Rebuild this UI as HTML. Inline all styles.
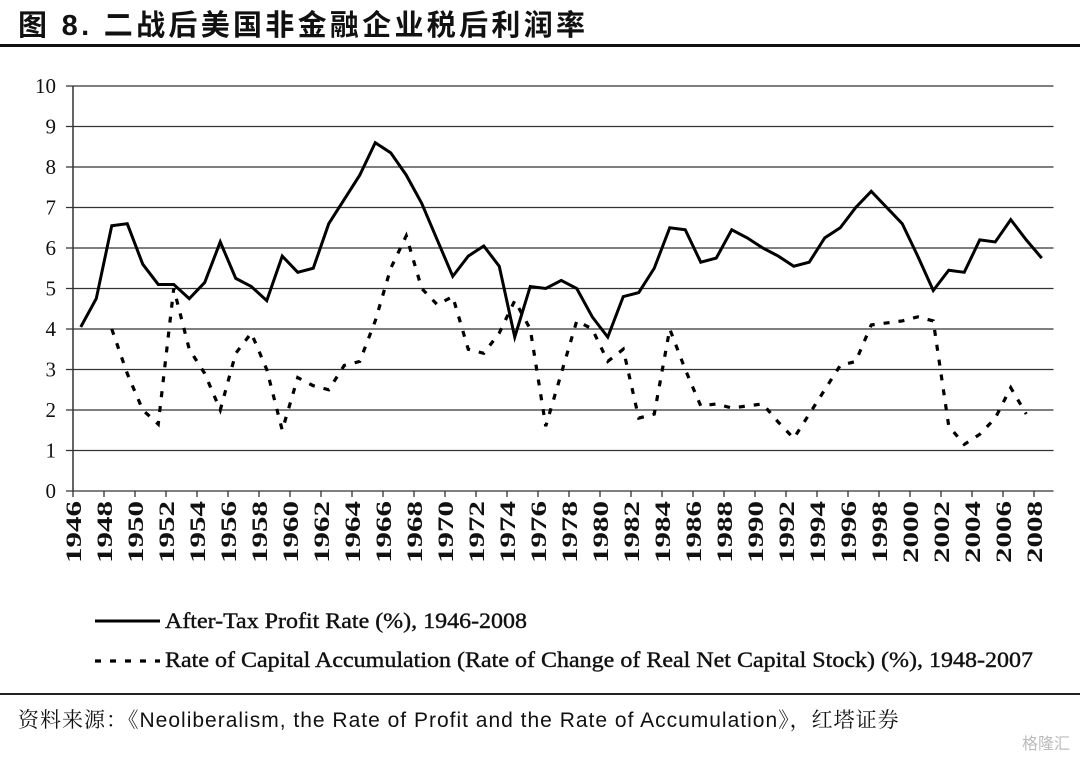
<!DOCTYPE html>
<html><head><meta charset="utf-8"><style>
body{margin:0;width:1080px;height:759px;background:#fff;overflow:hidden;position:relative;font-family:"Liberation Sans","Noto Sans CJK SC",sans-serif}
.title{position:absolute;left:18px;top:2px;font-size:29px;font-weight:bold;letter-spacing:3.3px;color:#111;white-space:nowrap}
.src{position:absolute;left:18px;top:704px;font-size:21px;color:#111;font-family:"Liberation Sans","Noto Serif CJK SC",serif;white-space:nowrap;letter-spacing:1px}
.wm{position:absolute;right:10px;top:730px;font-size:16px;color:#bbb}
</style></head><body>
<div class="title">图 8. 二战后美国非金融企业税后利润率</div>
<div style="position:absolute;left:0;top:44px;width:1080px;height:3px;background:#111"></div>
<svg id="chart" width="1080" height="690" style="position:absolute;left:0;top:0"></svg>
<div style="position:absolute;left:0;top:693px;width:1080px;height:2px;background:#222"></div>
<div class="src">资料来源：《Neoliberalism, the Rate of Profit and the Rate of Accumulation》，红塔证券</div>
<div class="wm">格隆汇</div>
<script>
const profitStart = 1946;
const profitRate = [4.05,4.75,6.55,6.6,5.6,5.1,5.1,4.75,5.15,6.15,5.25,5.05,4.7,5.8,5.4,5.5,6.6,7.2,7.8,8.6,8.35,7.8,7.1,6.2,5.3,5.8,6.05,5.55,3.8,5.05,5.0,5.2,5.0,4.3,3.8,4.8,4.9,5.5,6.5,6.45,5.65,5.75,6.45,6.25,6.0,5.8,5.55,5.65,6.25,6.5,7.0,7.4,7.0,6.6,5.8,4.95,5.45,5.4,6.2,6.15,6.7,6.2,5.75];
const accumStart = 1948;
const accumRate = [4.0,2.9,2.0,1.65,5.0,3.5,2.9,2.0,3.4,3.9,3.0,1.5,2.8,2.6,2.5,3.1,3.2,4.2,5.5,6.3,5.0,4.6,4.8,3.5,3.4,3.9,4.7,4.0,1.6,2.9,4.2,4.0,3.2,3.5,1.8,1.9,4.0,3.0,2.1,2.15,2.05,2.1,2.15,1.7,1.3,1.9,2.5,3.1,3.2,4.1,4.15,4.2,4.3,4.2,1.6,1.15,1.4,1.8,2.55,1.9];
const yTicks = [0,1,2,3,4,5,6,7,8,9,10];
const firstYear = 1946, lastYear = 2008;
const legendLabels = ["After-Tax Profit Rate (%), 1946-2008","Rate of Capital Accumulation (Rate of Change of Real Net Capital Stock) (%), 1948-2007"];

const svg = document.getElementById('chart');
const NS = 'http://www.w3.org/2000/svg';
const X0 = 73, STEP = 15.5, Y0 = 491, YU = 40.5;
const xs = yr => X0 + STEP*(yr - firstYear + 0.5);
const ys = v => Y0 - v*YU;
const xEnd = X0 + STEP*(lastYear-firstYear+1);
function mk(tag, attrs){const e=document.createElementNS(NS,tag);for(const k in attrs)e.setAttribute(k,attrs[k]);svg.appendChild(e);return e;}

yTicks.forEach(t=>{
  const g = mk('line',{x1:66,x2:xEnd+4,y1:ys(t),y2:ys(t),stroke:'#333','stroke-width':1.3});
  
  
  const tx = mk('text',{x:56,y:ys(t)+7,'text-anchor':'end','font-size':21,'font-family':'Liberation Serif, serif',fill:'#111'});
  tx.textContent = t;
  
  
});
const ax = mk('line',{x1:X0,x2:X0,y1:ys(10),y2:Y0,stroke:'#333','stroke-width':1.5});


for(let yr=firstYear; yr<=lastYear+1; yr+=2){
  const x = X0 + STEP*(yr-firstYear);
  const tk = mk('line',{x1:x,x2:x,y1:Y0,y2:Y0+6,stroke:'#333','stroke-width':1.3});
  
  
  if(yr<=lastYear){
    const tx = mk('text',{x:0,y:0,'text-anchor':'end','font-size':22,'font-weight':'bold','font-family':'Liberation Serif, serif',fill:'#111',textLength:62,lengthAdjust:'spacingAndGlyphs',transform:`translate(${x+8},${Y0+10}) rotate(-90)`});
    tx.textContent = yr;
    
    
  }
}
const p1 = mk('polyline',{points:profitRate.map((v,i)=>xs(profitStart+i)+','+ys(v)).join(' '),fill:'none',stroke:'#000','stroke-width':3,'stroke-linejoin':'miter'});


const p2 = mk('polyline',{points:accumRate.map((v,i)=>xs(accumStart+i)+','+ys(v)).join(' '),fill:'none',stroke:'#000','stroke-width':3.2,'stroke-dasharray':'6 9'});



const l1 = mk('line',{x1:95,x2:160,y1:621,y2:621,stroke:'#000','stroke-width':3});


const t1 = mk('text',{x:165,y:628,'font-size':22,'font-family':'Liberation Serif, serif',fill:'#111',stroke:'#111','stroke-width':0.4,textLength:362,lengthAdjust:'spacingAndGlyphs'});
t1.textContent = legendLabels[0];


const l2 = mk('line',{x1:95,x2:160,y1:661,y2:661,stroke:'#000','stroke-width':3.2,'stroke-dasharray':'6 9'});


const t2 = mk('text',{x:165,y:667,'font-size':22,'font-family':'Liberation Serif, serif',fill:'#111',stroke:'#111','stroke-width':0.4,textLength:868,lengthAdjust:'spacingAndGlyphs'});
t2.textContent = legendLabels[1];


</script>
</body></html>
